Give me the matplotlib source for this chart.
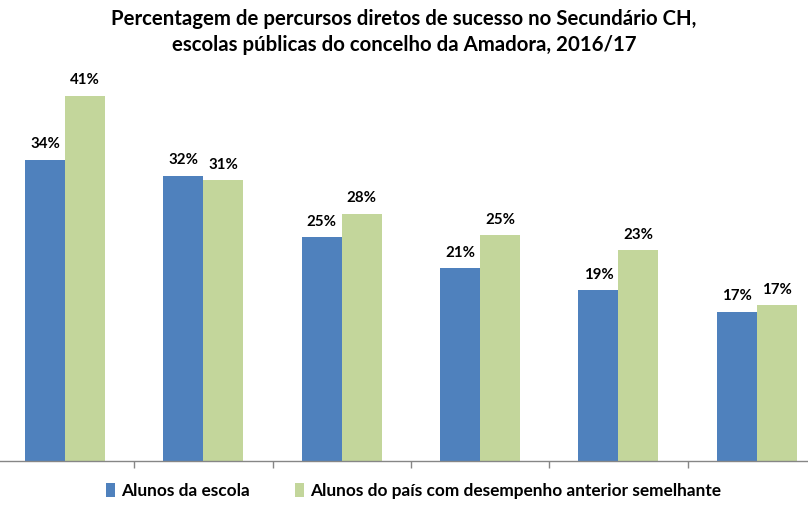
import matplotlib
matplotlib.use("Agg")
import matplotlib.pyplot as plt
from matplotlib.patches import Patch

categories = ["1", "2", "3", "4", "5", "6"]
escola = [33.5, 31.7, 24.9, 21.4, 19.0, 16.6]
pais = [40.6, 31.2, 27.5, 25.1, 23.4, 17.3]
series_names = ["Alunos da escola", "Alunos do país com desempenho anterior semelhante"]
title = "Percentagem de percursos diretos de sucesso no Secundário CH,\nescolas públicas do concelho da Amadora, 2016/17"

blue = "#4F81BD"
green = "#C3D69B"
font = ["Lato", "DejaVu Sans"]
plt.rcParams["font.family"] = font

W, H = 808, 509
fig = plt.figure(figsize=(W / 100, H / 100), dpi=100)
ax = fig.add_axes([0, (H - 461) / H, 1, (461 - 56) / H])

x = list(range(len(categories)))
w = 0.289
b1 = ax.bar([i - w / 2 for i in x], escola, w, color=blue, label=series_names[0])
b2 = ax.bar([i + w / 2 for i in x], pais, w, color=green, label=series_names[1])

for bars, vals in ((b1, escola), (b2, pais)):
    for r, v in zip(bars, vals):
        ax.annotate(f"{v:.0f}%", (r.get_x() + r.get_width() / 2, r.get_height()),
                    xytext=(0, 6), textcoords="offset points", ha="center", va="bottom",
                    fontsize=10.8, fontweight="bold", color="#000000")

for s in ("left", "top", "right"):
    ax.spines[s].set_visible(False)
ax.spines["bottom"].set_color("#868686")
ax.spines["bottom"].set_linewidth(1)
ax.set_yticks([])
ax.set_xticks([i + 0.5 for i in range(len(categories) - 1)])
ax.set_xticklabels([])
ax.tick_params(axis="x", direction="out", length=5, color="#868686", width=1)
ax.set_xlim(-0.47, 5.37)
ax.set_ylim(0, 45)

fig.text(0.5, 1 - 32 / H, title, ha="center", va="center", fontsize=14.7,
         fontweight="bold", linespacing=1.4)

handles = [Patch(facecolor=blue), Patch(facecolor=green)]
fig.legend(handles, series_names, loc="center", bbox_to_anchor=(0.512, (H - 491) / H),
           ncol=2, frameon=False, handlelength=0.5, handleheight=0.8,
           handletextpad=0.4, columnspacing=2.6,
           prop={"family": font, "weight": "bold", "size": 12.4})

fig.savefig("out.png", dpi=100)
